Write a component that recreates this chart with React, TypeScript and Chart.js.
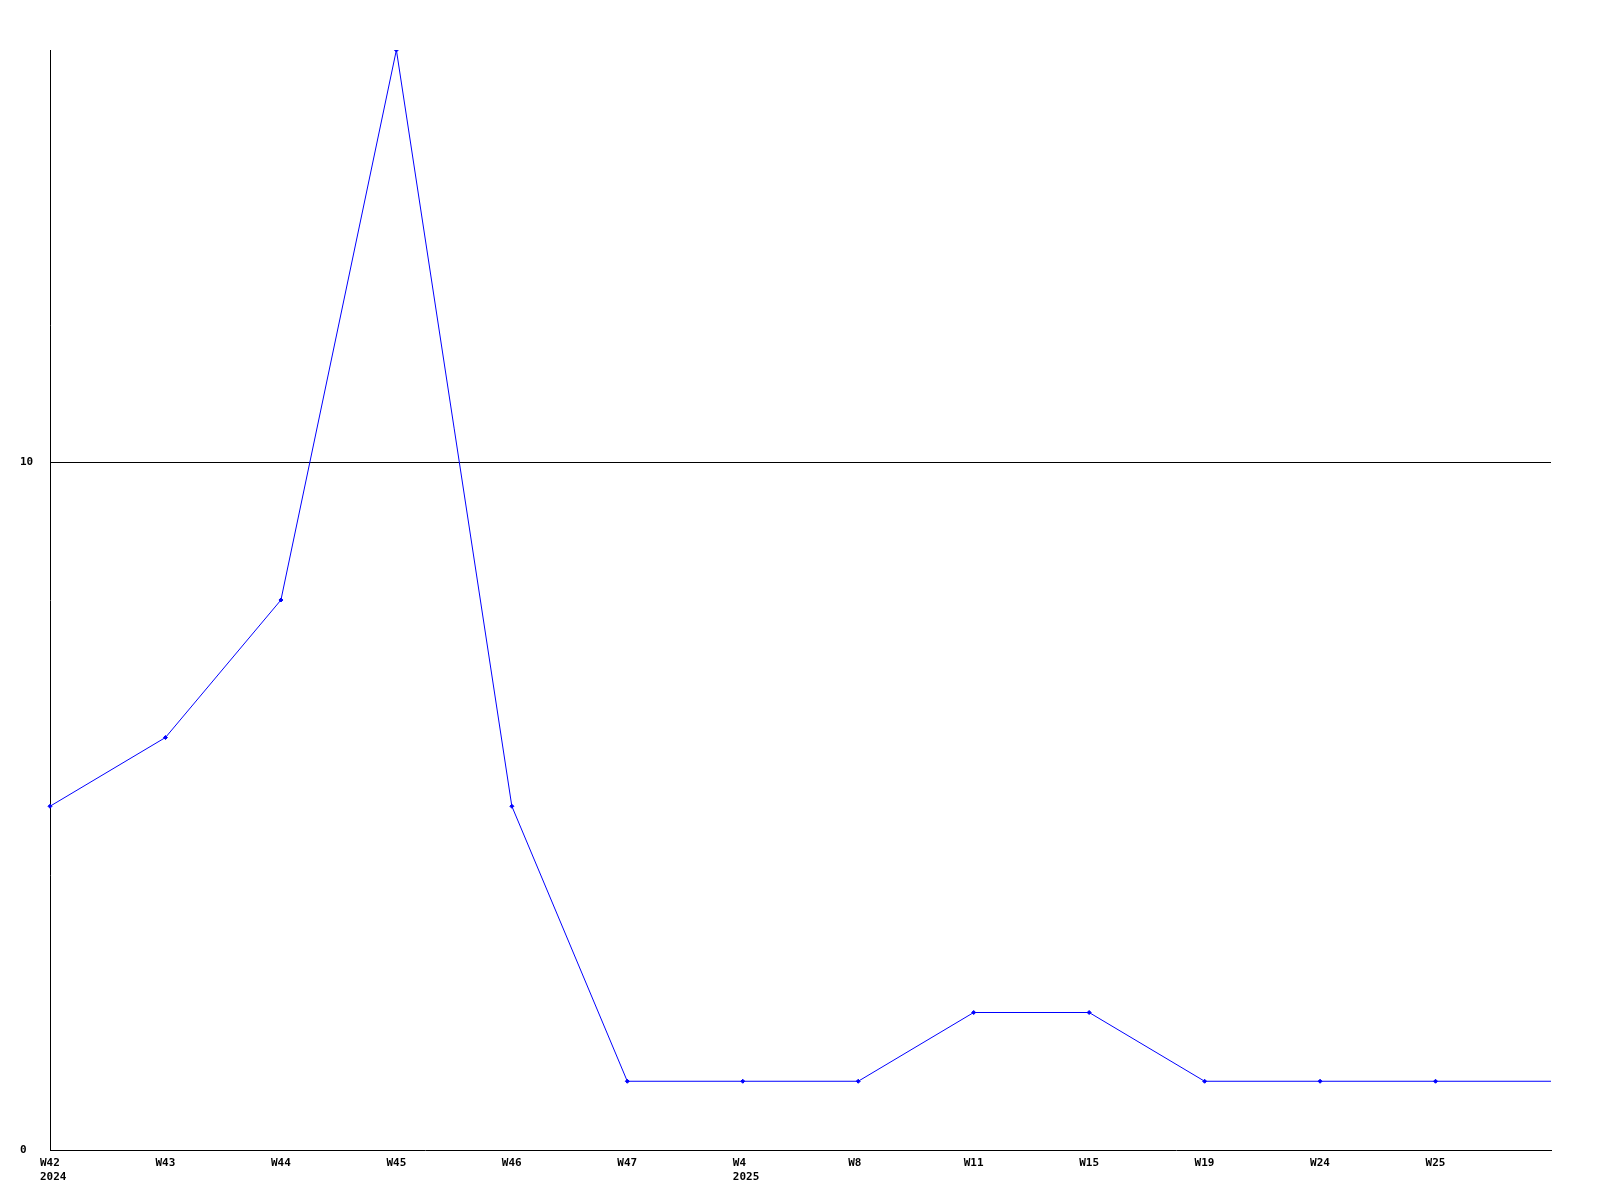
import React, { useEffect, useRef } from "react";
import { Chart, registerables } from "chart.js";

Chart.register(...registerables);

const weekLabels: string[] = ["W42", "W43", "W44", "W45", "W46", "W47", "W4", "W8", "W11", "W15", "W19", "W24", "W25", ""];
const yearLabels: string[] = ["2024", "", "", "", "", "", "2025", "", "", "", "", "", "", ""];
const values: number[] = [5, 6, 8, 16, 5, 1, 1, 1, 2, 2, 1, 1, 1, 1];
const yTicks: number[] = [0, 10];

export default function App() {
  const ref = useRef<HTMLCanvasElement | null>(null);

  useEffect(() => {
    if (!ref.current) return;
    const labels = weekLabels.map((w, i) => (yearLabels[i] ? [w, yearLabels[i]] : w));
    const font = { family: "'DejaVu Sans Mono', monospace", size: 11, weight: "bold" as const };
    const chart = new Chart(ref.current, {
      type: "line",
      data: {
        labels,
        datasets: [
          {
            data: values,
            borderColor: "#0000ff",
            backgroundColor: "#0000ff",
            borderWidth: 1,
            pointStyle: "rectRot",
            pointRadius: values.map((_, i) => (i === values.length - 1 ? 0 : 2)),
            pointBorderWidth: 1,
            tension: 0,
            fill: false,
          },
        ],
      },
      options: {
        animation: false,
        responsive: false,
        maintainAspectRatio: false,
        layout: { padding: { left: 20, right: 49, top: 50, bottom: 0 } },
        plugins: { legend: { display: false }, tooltip: { enabled: false } },
        scales: {
          x: {
            offset: false,
            grid: { display: false, drawTicks: false },
            border: { display: true, color: "#000", width: 1 },
            ticks: {
              autoSkip: false,
              maxRotation: 0,
              minRotation: 0,
              color: "#000",
              font: { ...font, lineHeight: 1.3 },
              padding: 6,
              align: "start",
              labelOffset: -10,
            },
            afterFit: (s: any) => {
              s.height = 50;
            },
          },
          y: {
            min: 0,
            max: 16,
            grid: {
              drawTicks: false,
              color: (ctx: any) => (ctx.tick && ctx.tick.value === 10 ? "#000" : "rgba(0,0,0,0)"),
              lineWidth: 1,
            },
            border: { display: true, color: "#000", width: 1 },
            ticks: {
              color: "#000",
              font,
              crossAlign: "far",
              padding: 0,
            },
            afterBuildTicks: (s: any) => {
              s.ticks = yTicks.map((v) => ({ value: v }));
            },
            afterFit: (s: any) => {
              s.width = 30;
            },
          },
        },
      },
    });
    return () => chart.destroy();
  }, []);

  return (
    <div style={{ position: "fixed", left: 0, top: 0, width: 1600, height: 1200, background: "#fff" }}>
      <canvas ref={ref} width={1600} height={1200} style={{ width: 1600, height: 1200, display: "block" }} />
    </div>
  );
}
